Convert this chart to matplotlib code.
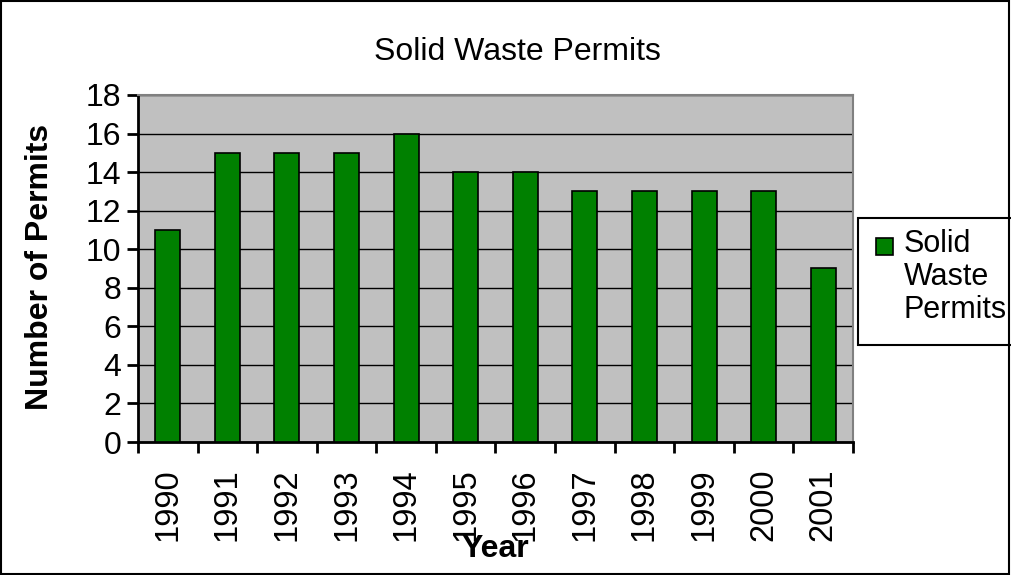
"""Solid waste permits per year, bar chart."""

import matplotlib

matplotlib.use("Agg")
import matplotlib.pyplot as plt
from matplotlib.patches import Rectangle

years = ["1990", "1991", "1992", "1993", "1994", "1995",
         "1996", "1997", "1998", "1999", "2000", "2001"]
permits = [11, 15, 15, 15, 16, 14, 14, 13, 13, 13, 13, 9]
series_name = "Solid Waste Permits"
y_ticks = [0, 2, 4, 6, 8, 10, 12, 14, 16, 18]

plt.rcParams["font.family"] = ["Liberation Sans", "DejaVu Sans"]
FS = 23

fig = plt.figure(figsize=(10.11, 5.75), dpi=100)
ax = fig.add_axes([0.1365, 0.2313, 0.7072, 0.6035])
ax.set_facecolor("#C0C0C0")

x = list(range(len(years)))
ax.bar(x, permits, width=0.42, color="#008000", edgecolor="black",
       linewidth=1.2, zorder=3)

ax.set_xlim(-0.5, len(years) - 0.5)
ax.set_ylim(0, 18)
ax.set_yticks(y_ticks)
ax.yaxis.grid(True, color="black", linewidth=1.0, zorder=1)
ax.set_axisbelow(True)

# category labels at bar centres, tick marks at category boundaries
ax.set_xticks(x)
ax.set_xticklabels(years, rotation=90, fontsize=23.5)
ax.tick_params(axis="x", which="major", length=0, pad=19)
ax.set_xticks([i - 0.5 for i in range(len(years) + 1)], minor=True)
ax.tick_params(axis="x", which="minor", length=8, width=2, direction="out")
ax.tick_params(axis="y", length=8, width=2, direction="out", labelsize=FS, pad=4)

for side in ("left", "bottom"):
    ax.spines[side].set_linewidth(2)
    ax.spines[side].set_color("black")
for side in ("top", "right"):
    ax.spines[side].set_linewidth(1.5)
    ax.spines[side].set_color("#808080")

fig.text(0.512, 0.909, series_name, ha="center", va="center", fontsize=FS)
fig.text(0.04, 0.536, "Number of Permits", rotation=90, ha="center",
         va="center", fontsize=FS, fontweight="bold")
fig.text(0.49, 0.045, "Year", ha="center", va="center", fontsize=FS,
         fontweight="bold")

# legend drawn by hand so the marker sits beside the first line
fig.patches.append(Rectangle((858 / 1011, 1 - 345 / 575), 160 / 1011, 127 / 575,
                             transform=fig.transFigure, facecolor="white",
                             edgecolor="black", linewidth=1.5))
fig.patches.append(Rectangle((876 / 1011, 1 - 255 / 575), 17 / 1011, 17 / 575,
                             transform=fig.transFigure, facecolor="#008000",
                             edgecolor="black", linewidth=1.2))
fig.text(904 / 1011, 1 - 229 / 575, series_name.replace(" ", "\n"),
         ha="left", va="top", fontsize=22, linespacing=1.13)

# outer chart border
fig.patches.append(Rectangle((0.001, 0.002), 0.997, 0.996,
                             transform=fig.transFigure, fill=False,
                             edgecolor="black", linewidth=1.5))

fig.savefig("out.png", dpi=100)
